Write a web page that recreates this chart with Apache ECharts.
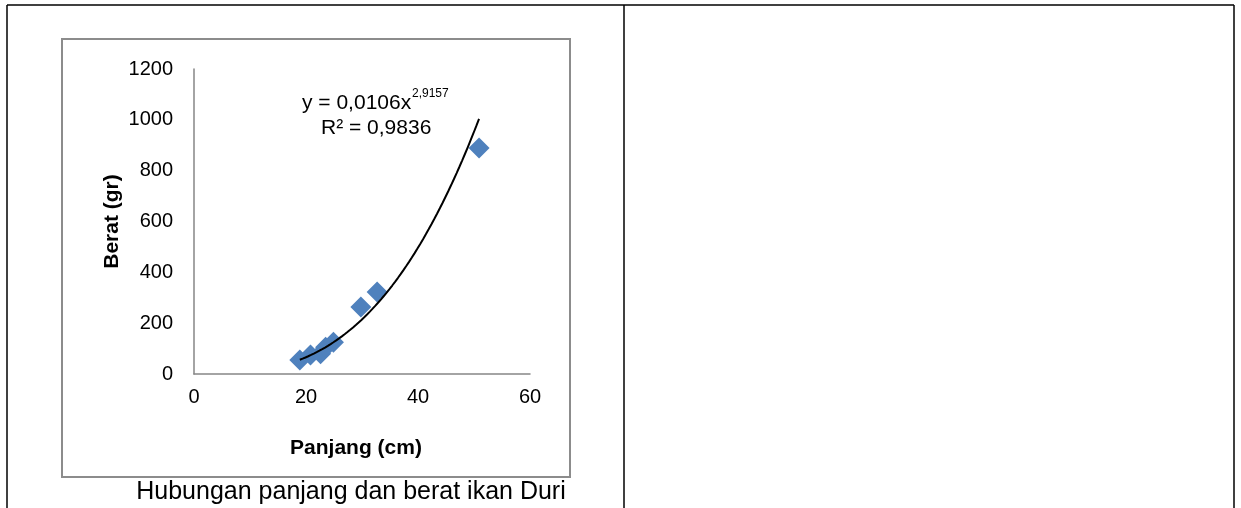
<!DOCTYPE html>
<html>
<head>
<meta charset="utf-8">
<script src="https://cdn.jsdelivr.net/npm/echarts@6/dist/echarts.min.js"></script>
<style>
html,body{margin:0;padding:0;background:#fff;}
#c{width:1241px;height:508px;}
</style>
</head>
<body>
<div id="c"></div>
<script>
// Data
const panjang = [18.9, 20.8, 22.6, 23.5, 24.9, 29.8, 32.7, 50.9];
const berat   = [55, 75, 80, 105, 125, 264, 323, 889];
const xTicks = [0, 20, 40, 60];
const yTicks = [0, 200, 400, 600, 800, 1000, 1200];
// Power trendline shown on the chart: y = 0,0106 x^2,9157
const trendA = 0.0106;
const trendB = 2.9157;
const eqText = 'y = 0,0106x';
const eqExp = '2,9157';
const r2Text = 'R² = 0,9836';
const xName = 'Panjang (cm)';
const yName = 'Berat (gr)';
const caption = 'Hubungan panjang dan berat ikan Duri';

const points = panjang.map((x, i) => [x, berat[i]]);
const xMinD = Math.min(...panjang), xMaxD = Math.max(...panjang);
const trend = [];
for (let k = 0; k <= 64; k++) {
  const x = xMinD + (xMaxD - xMinD) * k / 64;
  trend.push([x, trendA * Math.pow(x, trendB)]);
}

const FONT = "'Liberation Sans', Arial, sans-serif";
const chart = echarts.init(document.getElementById('c'), null, {renderer: 'canvas'});
chart.setOption({
  backgroundColor: '#ffffff',
  animation: false,
  grid: {left: 194, top: 69, width: 336, height: 305, containLabel: false},
  xAxis: {
    type: 'value', min: xTicks[0], max: xTicks[xTicks.length - 1], interval: 20,
    name: xName, nameLocation: 'middle', nameGap: 64,
    nameTextStyle: {fontFamily: FONT, fontSize: 21, fontWeight: 'bold', color: '#000', padding: [0, 12, 0, 0]},
    axisLine: {show: true, onZero: false, lineStyle: {color: '#868686', width: 1.5}},
    axisTick: {show: false},
    splitLine: {show: false},
    axisLabel: {fontFamily: FONT, fontSize: 20, color: '#000', margin: 13, formatter: v => String(v)}
  },
  yAxis: {
    type: 'value', min: yTicks[0], max: yTicks[yTicks.length - 1], interval: 200,
    name: yName, nameLocation: 'middle', nameGap: 71,
    nameTextStyle: {fontFamily: FONT, fontSize: 21, fontWeight: 'bold', color: '#000'},
    axisLine: {show: true, onZero: false, lineStyle: {color: '#868686', width: 1.5}},
    axisTick: {show: false},
    splitLine: {show: false},
    axisLabel: {fontFamily: FONT, fontSize: 20, color: '#000', margin: 21, formatter: v => String(v)}
  },
  series: [
    {
      type: 'scatter', data: points, symbol: 'diamond', symbolSize: 21,
      itemStyle: {color: '#4F81BD', opacity: 1}, z: 2
    },
    {
      type: 'line', data: trend, showSymbol: false, smooth: false,
      lineStyle: {color: '#000', width: 2}, z: 3
    }
  ],
  graphic: [
    {type: 'line', shape: {x1: 7, y1: 5, x2: 1234, y2: 5}, style: {stroke: '#000', lineWidth: 1.5}, silent: true},
    {type: 'line', shape: {x1: 7, y1: 5, x2: 7, y2: 508}, style: {stroke: '#000', lineWidth: 1.5}, silent: true},
    {type: 'line', shape: {x1: 624, y1: 5, x2: 624, y2: 508}, style: {stroke: '#000', lineWidth: 1.5}, silent: true},
    {type: 'line', shape: {x1: 1234, y1: 5, x2: 1234, y2: 508}, style: {stroke: '#000', lineWidth: 1.5}, silent: true},
    {type: 'rect', shape: {x: 62, y: 39, width: 508, height: 438}, style: {fill: 'none', stroke: '#8c8c8c', lineWidth: 2}, silent: true, z: -1},
    {type: 'text', left: 302, top: 93, style: {text: eqText, fontFamily: FONT, fontSize: 21, fill: '#000'}},
    {type: 'text', left: 412, top: 88, style: {text: eqExp, fontFamily: FONT, fontSize: 12, fill: '#000'}},
    {type: 'text', left: 321, top: 118, style: {text: r2Text, fontFamily: FONT, fontSize: 21, fill: '#000'}},
    {type: 'text', x: 351, y: 480, style: {text: caption, fontFamily: FONT, fontSize: 25, fill: '#000', align: 'center', verticalAlign: 'top'}}
  ]
});
</script>
</body>
</html>
